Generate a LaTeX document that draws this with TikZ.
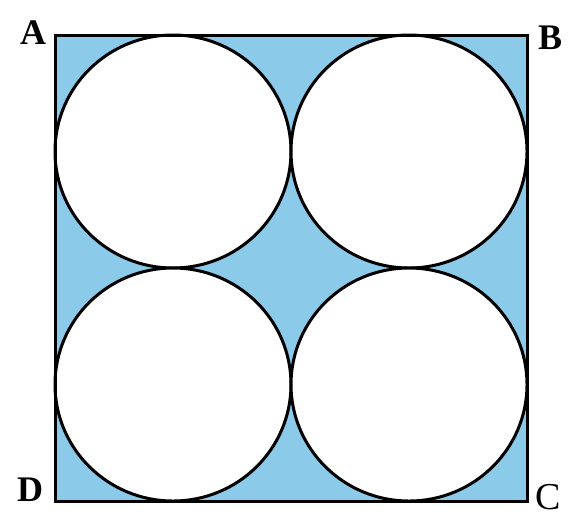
\documentclass[tikz,border=0pt]{standalone}
\usepackage{fontspec}
\setmainfont{Liberation Serif}
\definecolor{regionblue}{RGB}{140,202,234}
\begin{document}
\begin{tikzpicture}[x=1pt,y=-1pt,
  lbl/.style={font=\bfseries\fontsize{36}{36}\selectfont, inner sep=0pt},
  ring/.style={draw=black, line width=3pt, fill=white}]
\useasboundingbox (0,0) rectangle (569,531);
\fill[regionblue] (55,35) rectangle (527,501);
\foreach \cx/\cy in {173/151.5, 409/151.5, 173/384.5, 409/384.5}
  \draw[ring] (\cx,\cy) ellipse [x radius=118, y radius=116.5];
\draw[line width=3pt, line join=miter] (55,35) rectangle (527,501);
\node[lbl] (A) at (33,33) {A};
\node[lbl] (B) at (550,38) {B};
\node[lbl] (D) at (30,490) {D};
\node[lbl, font=\fontsize{38}{38}\selectfont] (C) at (548,497) {C};
\end{tikzpicture}
\end{document}
